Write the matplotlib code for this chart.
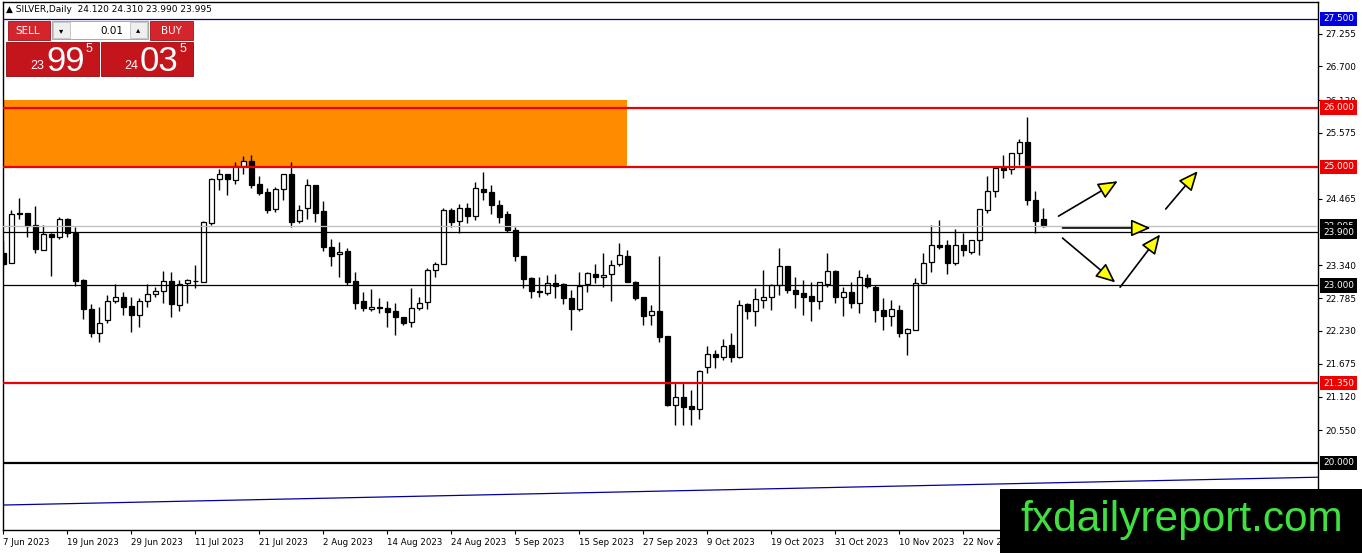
import numpy as np
import matplotlib
matplotlib.use("Agg")
import matplotlib.pyplot as plt
from matplotlib.patches import Rectangle
from matplotlib.transforms import blended_transform_factory

# Daily candles, 7 Jun 2023 .. 6 Dec 2023
opens = [23.55, 23.37, 24.22, 24.22, 24.02, 23.60, 23.87, 23.81, 24.13, 23.89,
         23.09, 22.60, 22.20, 22.42, 22.74, 22.81, 22.65, 22.50, 22.73, 22.85,
         22.91, 23.07, 22.67, 23.04, 23.08, 23.06, 24.05, 24.80, 24.89, 24.78,
         25.02, 25.10, 24.71, 24.57, 24.29, 24.63, 24.88, 24.08, 24.30, 24.70,
         24.26, 23.65, 23.53, 23.58, 23.08, 22.74, 22.60, 22.64, 22.62, 22.56,
         22.46, 22.38, 22.62, 22.72, 23.26, 23.36, 24.27, 24.08, 24.30, 24.18,
         24.62, 24.58, 24.35, 24.20, 23.94, 23.50, 23.12, 22.91, 22.87, 23.04,
         23.02, 22.78, 22.60, 23.02, 23.20, 23.14, 23.19, 23.36, 23.50, 23.06,
         22.80, 22.50, 22.57, 22.15, 20.98, 21.11, 20.96, 20.92, 21.62, 21.84,
         21.79, 21.99, 21.79, 22.68, 22.56, 22.75, 22.81, 23.00, 23.33, 22.93,
         22.87, 22.82, 22.74, 23.02, 23.25, 22.80, 22.89, 22.71, 23.12, 22.98,
         22.58, 22.48, 22.58, 22.20, 22.25, 23.04, 23.39, 23.69, 23.68, 23.37,
         23.69, 23.57, 23.77, 24.27, 24.60, 24.98, 24.96, 25.23, 25.42, 24.45,
         24.12]
highs = [23.75, 24.28, 24.47, 24.23, 24.34, 24.02, 23.88, 24.16, 24.14, 23.99,
         23.10, 22.69, 22.64, 22.84, 23.03, 22.89, 22.81, 22.78, 23.02, 22.98,
         23.24, 23.22, 23.09, 23.10, 23.34, 24.09, 24.82, 24.97, 24.89, 25.09,
         25.18, 25.21, 24.85, 24.65, 24.67, 24.88, 25.09, 24.36, 24.80, 24.70,
         24.43, 23.78, 23.73, 23.63, 23.22, 22.89, 22.94, 22.78, 22.73, 22.70,
         22.47, 22.95, 22.81, 23.29, 23.39, 24.31, 24.31, 24.38, 24.40, 24.75,
         24.92, 24.70, 24.45, 24.25, 23.98, 23.50, 23.15, 23.15, 23.18, 23.20,
         23.04, 22.92, 23.22, 23.22, 23.36, 23.54, 23.43, 23.72, 23.60, 23.08,
         22.80, 22.67, 23.50, 22.15, 21.35, 21.35, 21.24, 21.57, 21.97, 21.91,
         22.09, 22.19, 22.75, 22.71, 22.95, 23.26, 23.02, 23.63, 23.33, 23.15,
         23.09, 23.05, 23.06, 23.54, 23.26, 22.97, 23.06, 23.26, 23.20, 23.01,
         22.78, 22.75, 22.67, 22.28, 23.12, 23.55, 24.02, 24.10, 23.77, 23.96,
         23.88, 23.77, 24.29, 24.84, 24.98, 25.20, 25.23, 25.48, 25.85, 24.59,
         24.31]
lows = [23.33, 23.37, 24.13, 23.82, 23.54, 23.59, 23.16, 23.78, 23.82, 22.99,
        22.44, 22.12, 22.05, 22.36, 22.70, 22.50, 22.22, 22.29, 22.64, 22.81,
        22.71, 22.46, 22.56, 22.70, 22.96, 23.05, 24.02, 24.61, 24.53, 24.71,
        24.89, 24.65, 24.53, 24.22, 24.24, 24.44, 23.99, 24.05, 24.13, 24.07,
        23.58, 23.33, 23.15, 23.01, 22.60, 22.57, 22.57, 22.53, 22.30, 22.17,
        22.33, 22.29, 22.58, 22.60, 23.15, 23.36, 23.99, 23.88, 24.05, 24.10,
        24.45, 24.20, 24.05, 23.90, 23.42, 22.95, 22.78, 22.80, 22.84, 22.78,
        22.69, 22.25, 22.57, 22.89, 23.04, 22.98, 22.74, 23.32, 23.05, 22.76,
        22.33, 22.33, 22.05, 20.97, 20.64, 20.64, 20.64, 20.75, 21.52, 21.60,
        21.74, 21.70, 21.77, 22.43, 22.31, 22.61, 22.58, 22.84, 22.88, 22.61,
        22.50, 22.40, 22.60, 22.98, 22.70, 22.48, 22.61, 22.54, 22.95, 22.39,
        22.25, 22.31, 22.13, 21.83, 22.24, 23.03, 23.23, 23.61, 23.20, 23.35,
        23.49, 23.53, 23.51, 24.22, 24.50, 24.81, 24.88, 25.03, 24.36, 23.89,
        23.99]
closes = [23.36, 24.21, 24.21, 24.01, 23.61, 23.87, 23.81, 24.13, 23.88, 23.08,
          22.60, 22.20, 22.37, 22.73, 22.80, 22.64, 22.50, 22.73, 22.85, 22.91,
          23.07, 22.68, 23.02, 23.09, 23.07, 24.07, 24.80, 24.88, 24.79, 25.01,
          25.10, 24.70, 24.56, 24.27, 24.63, 24.88, 24.07, 24.27, 24.69, 24.23,
          23.65, 23.50, 23.56, 23.06, 22.71, 22.62, 22.63, 22.62, 22.55, 22.46,
          22.36, 22.62, 22.70, 23.26, 23.36, 24.27, 24.07, 24.30, 24.18, 24.65,
          24.58, 24.35, 24.15, 23.94, 23.49, 23.10, 22.91, 22.89, 23.04, 22.99,
          22.78, 22.60, 22.99, 23.21, 23.14, 23.18, 23.34, 23.51, 23.06, 22.78,
          22.49, 22.57, 22.13, 20.98, 21.11, 20.95, 20.92, 21.55, 21.84, 21.79,
          21.98, 21.79, 22.67, 22.57, 22.77, 22.80, 23.01, 23.33, 22.92, 22.85,
          22.81, 22.74, 23.05, 23.25, 22.81, 22.89, 22.71, 23.15, 22.99, 22.58,
          22.48, 22.60, 22.20, 22.26, 23.04, 23.38, 23.69, 23.65, 23.38, 23.69,
          23.60, 23.77, 24.29, 24.60, 24.98, 24.95, 25.23, 25.42, 24.44, 24.09,
          23.995]

date_labels = ['7 Jun 2023', '19 Jun 2023', '29 Jun 2023', '11 Jul 2023', '21 Jul 2023',
               '2 Aug 2023', '14 Aug 2023', '24 Aug 2023', '5 Sep 2023', '15 Sep 2023',
               '27 Sep 2023', '9 Oct 2023', '19 Oct 2023', '31 Oct 2023', '10 Nov 2023',
               '22 Nov 2023', '4 Dec 2023']
date_step = 8

# visible scale labels (25.020 / 23.910 sit under the coloured tags)
price_ticks = [27.255, 26.700, 26.130, 25.575, 24.465, 23.340,
               22.785, 22.230, 21.675, 21.120, 20.550]

red_levels = [26.0, 25.0, 21.35]
black_levels = [23.9, 23.0]
bold_level = 20.0
top_level = 27.5
bid_price = 23.995

zone_x = [-1, 78]
zone_y = [25.0, 26.13]

trend_x = [0, 164.3]
trend_y = [19.29, 19.76]

# arrow start / end points (bar index, price)
arrow_start = [(131.9, 24.17), (132.4, 23.97), (132.4, 23.80), (139.6, 22.97), (145.3, 24.29)]
arrow_end = [(139.3, 24.76), (143.4, 23.97), (139.0, 23.05), (144.6, 23.86), (149.3, 24.93)]

# ---- figure layout (pixels) ----
W, H = 1362, 553
fig = plt.figure(figsize=(W / 100, H / 100), dpi=100)
ax_left, ax_right, ax_top, ax_bottom = 3, 1318, 2, 530
ax = fig.add_axes([ax_left / W, 1 - ax_bottom / H, (ax_right - ax_left) / W, (ax_bottom - ax_top) / H])

px_per_unit = 59.2
y_ref_pix = 19  # pixel row of 27.5
ax.set_ylim(27.5 - (ax_bottom - y_ref_pix) / px_per_unit, 27.5 + (y_ref_pix - ax_top) / px_per_unit)
ax.set_xlim(-0.04, (ax_right - ax_left - 0.3) / 8)

# orange zone
ax.add_patch(Rectangle((zone_x[0], zone_y[0]), zone_x[1] - zone_x[0], zone_y[1] - zone_y[0],
                       facecolor='#ff8c00', edgecolor='none', zorder=1))

# candles
idx = np.arange(len(opens))
o = np.array(opens); c = np.array(closes); hi = np.array(highs); lo = np.array(lows)
ax.vlines(idx, lo, hi, color='black', linewidth=1.0, zorder=2)
bull = c >= o
body_lo = np.minimum(o, c)
body_h = np.maximum(np.abs(c - o), 0.004)
ax.bar(idx[bull], body_h[bull], 0.62, bottom=body_lo[bull], facecolor='white',
       edgecolor='black', linewidth=0.9, zorder=2.2)
ax.bar(idx[~bull], body_h[~bull], 0.62, bottom=body_lo[~bull], facecolor='black',
       edgecolor='black', linewidth=0.9, zorder=2.2)

# horizontal levels
ax.axhline(top_level, color='#000080', linewidth=0.9, zorder=3)
for lv in red_levels:
    ax.axhline(lv, color='#ee0000', linewidth=1.6, zorder=3)
ax.axhline(bid_price, color='#bdbdbd', linewidth=0.9, zorder=2.9)
for lv in black_levels:
    ax.axhline(lv, color='black', linewidth=0.9, zorder=3)
ax.axhline(bold_level, color='black', linewidth=1.6, zorder=3)
ax.plot(trend_x, trend_y, color='#0000a0', linewidth=0.9, zorder=3)

# arrows
for s, e in zip(arrow_start, arrow_end):
    ax.annotate('', xy=e, xytext=s, zorder=4,
                arrowprops=dict(arrowstyle='-|>,head_length=0.8,head_width=0.35',
                                fc='#ffff00', ec='black', lw=1.2, mutation_scale=15,
                                shrinkA=0, shrinkB=0))

# axes styling
for sp in ax.spines.values():
    sp.set_color('black')
    sp.set_linewidth(1.0)
ax.yaxis.tick_right()
ax.set_yticks(price_ticks)
ax.set_yticklabels([f'{t:.3f}' for t in price_ticks])
ax.tick_params(axis='y', length=3, width=0.8, pad=2, labelsize=6.4, colors='black')
ax.set_xticks(np.arange(len(date_labels)) * date_step)
ax.set_xticklabels(date_labels)
for lab in ax.get_xticklabels():
    lab.set_horizontalalignment('left')
ax.tick_params(axis='x', length=3, width=0.8, pad=3, labelsize=6.2, colors='black')

# price labels on right axis
tr = blended_transform_factory(ax.transAxes, ax.transData)
def price_tag(val, color):
    ax.text(1.0 + 5 / (ax_right - ax_left), val, f'{val:.3f}', transform=tr, ha='left', va='center',
            fontsize=6.4, color='white', zorder=6, clip_on=False,
            bbox=dict(boxstyle='square,pad=0.32', fc=color, ec='none'))
price_tag(top_level, '#0000e0')
for lv in red_levels:
    price_tag(lv, '#ee0000')
price_tag(bid_price, 'black')
for lv in black_levels:
    price_tag(lv, 'black')
price_tag(bold_level, 'black')

# ---- header text and trade panel (figure pixels) ----
def fbox(x0, y0, x1, y1, **kw):
    fig.add_artist(Rectangle((x0 / W, 1 - y1 / H), (x1 - x0) / W, (y1 - y0) / H,
                             transform=fig.transFigure, **kw))

def ftext(x, y, s, **kw):
    fig.text(x / W, 1 - y / H, s, **kw)

ftext(6, 10, '\u25b2 SILVER,Daily  24.120 24.310 23.990 23.995', fontsize=6.5,
      va='center', ha='left', color='black')

fbox(8, 21, 50, 40, facecolor='#d4252c', edgecolor='#a01016', linewidth=0.6)
fbox(150, 21, 193, 40, facecolor='#d4252c', edgecolor='#a01016', linewidth=0.6)
fbox(52, 21, 148, 39, facecolor='white', edgecolor='#9a9a9a', linewidth=0.6)
fbox(53, 22, 70, 38, facecolor='#efefef', edgecolor='#c0c0c0', linewidth=0.6)
fbox(130, 22, 147, 38, facecolor='#efefef', edgecolor='#c0c0c0', linewidth=0.6)
fbox(6, 42, 99, 76, facecolor='#c4141c', edgecolor='#8e0a10', linewidth=0.6)
fbox(101, 42, 193, 76, facecolor='#c4141c', edgecolor='#8e0a10', linewidth=0.6)

ftext(28, 30.5, 'SELL', fontsize=7.5, color='white', ha='center', va='center')
ftext(171, 30.5, 'BUY', fontsize=7.5, color='white', ha='center', va='center')
ftext(61.5, 30.5, '\u25be', fontsize=6, color='black', ha='center', va='center')
ftext(138.5, 30, '\u25b4', fontsize=6, color='black', ha='center', va='center')
ftext(123, 30.5, '0.01', fontsize=7.5, color='black', ha='right', va='center')

big = dict(color='white', family='Liberation Sans')
ftext(44, 69, '23', fontsize=9, ha='right', va='baseline', **big)
ftext(46, 71, '99', fontsize=25, ha='left', va='baseline', **big)
ftext(86, 52, '5', fontsize=9, ha='left', va='baseline', **big)
ftext(138, 69, '24', fontsize=9, ha='right', va='baseline', **big)
ftext(140, 71, '03', fontsize=25, ha='left', va='baseline', **big)
ftext(180, 52, '5', fontsize=9, ha='left', va='baseline', **big)

# watermark
fbox(1000, 489, 1362, 553, facecolor='black', edgecolor='none', zorder=10)
ftext(1182, 520, 'fxdailyreport.com', fontsize=30.5, color='#3fe03f', family='Liberation Sans',
      ha='center', va='center', zorder=11)

fig.savefig('out.png', dpi=100, facecolor='white')
